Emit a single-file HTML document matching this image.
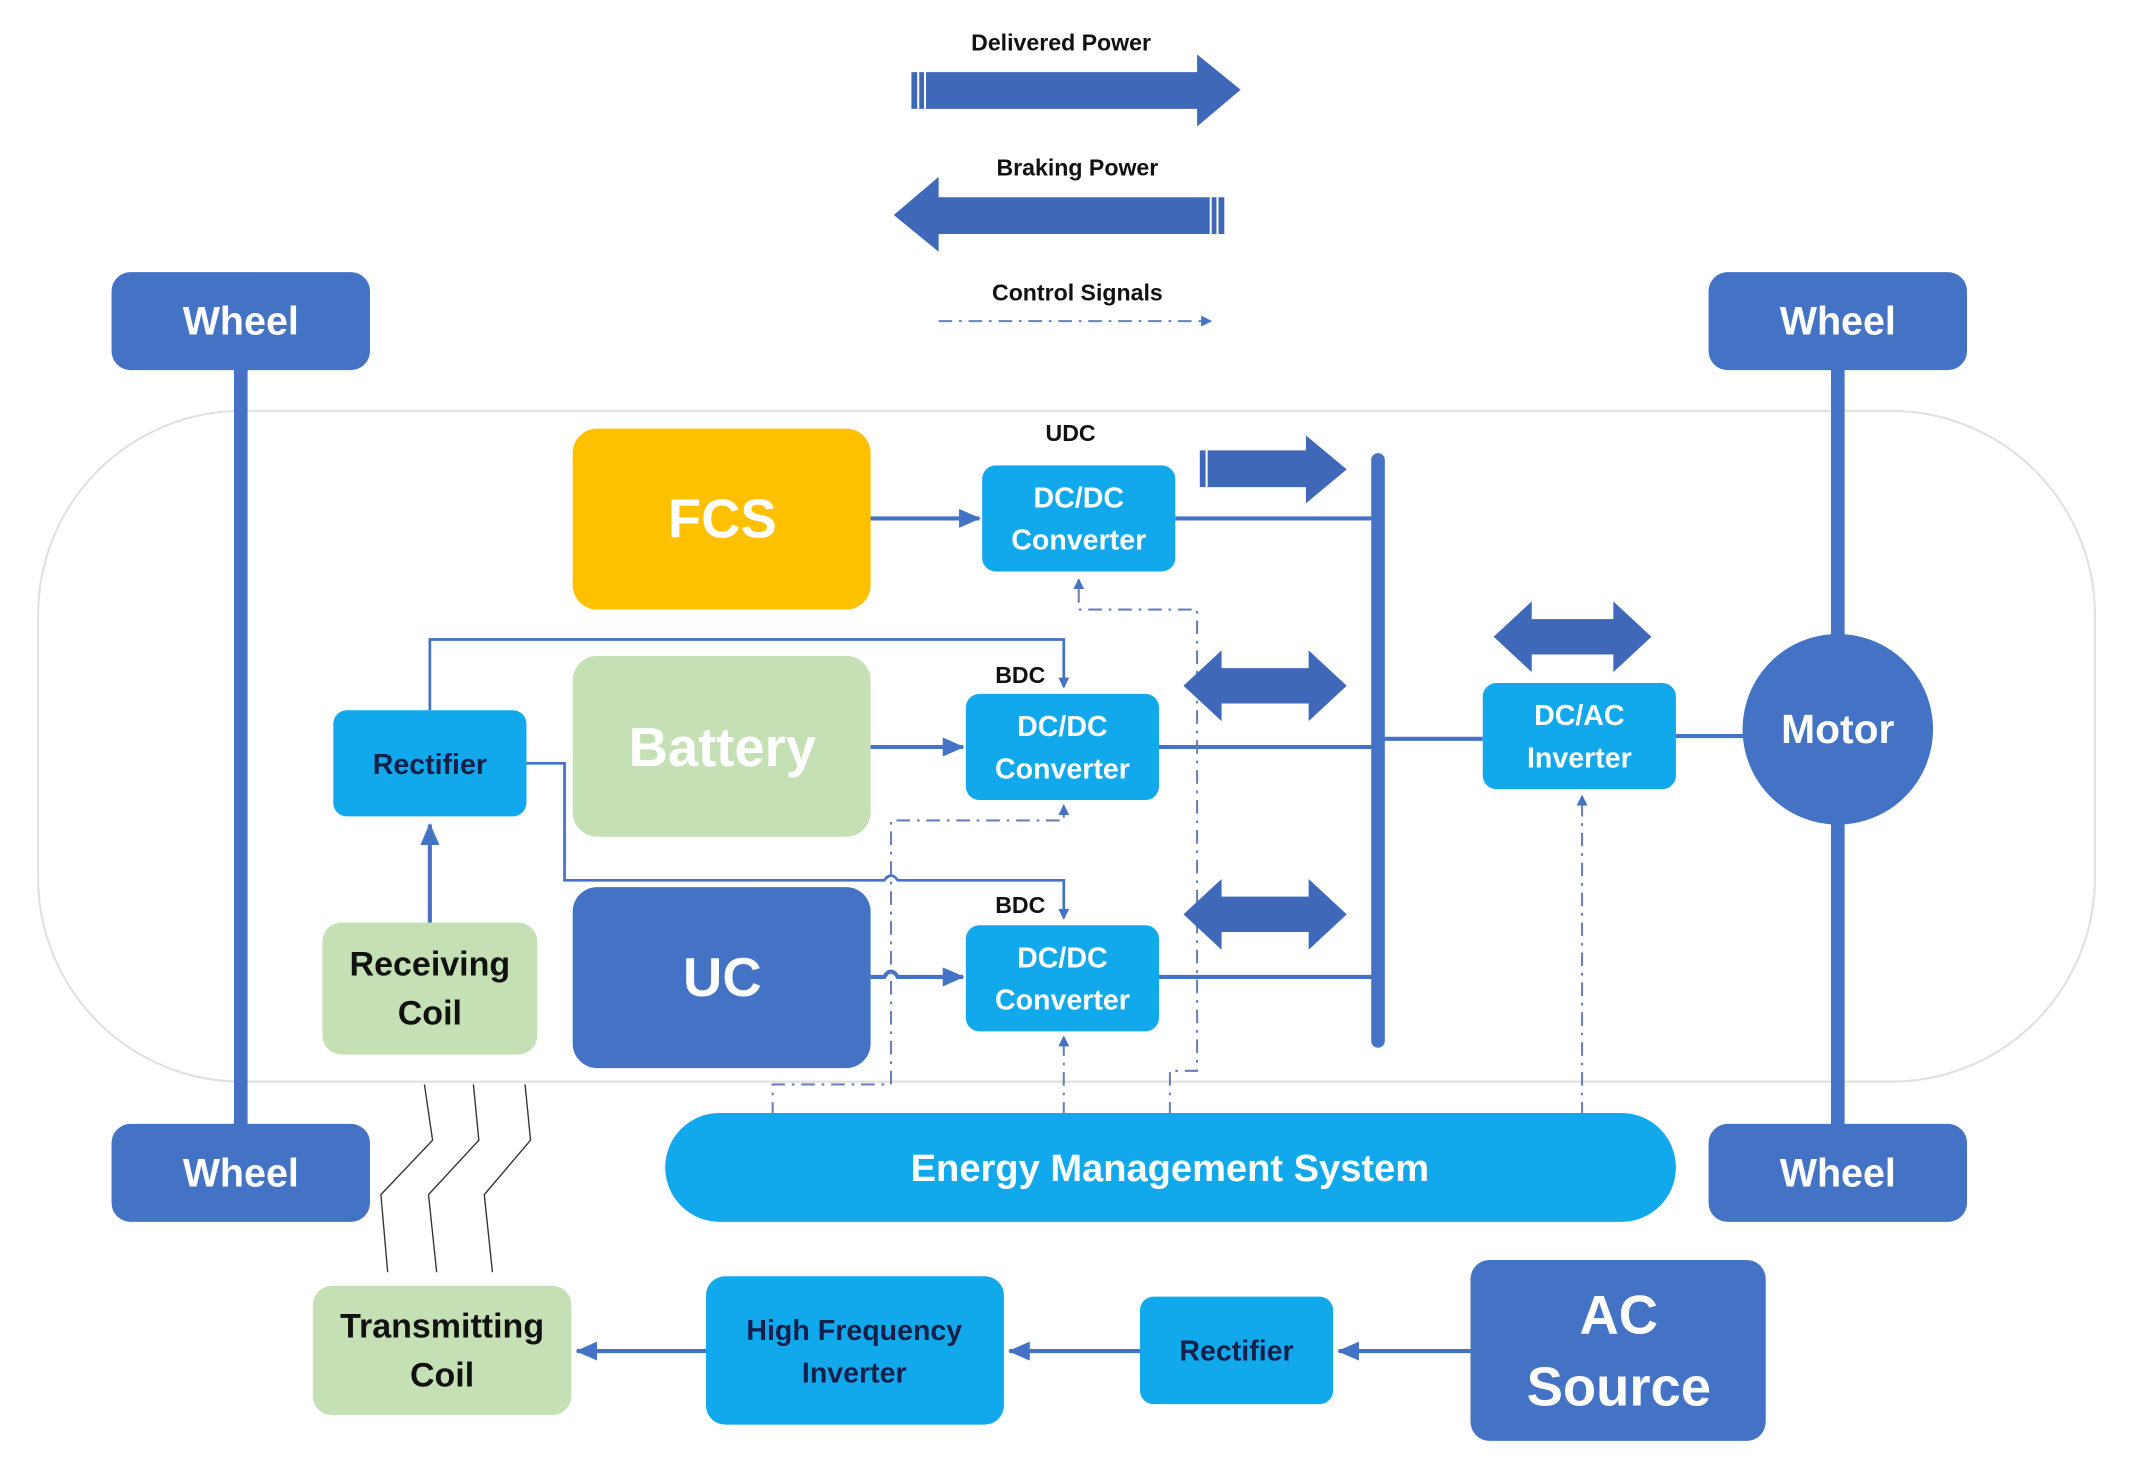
<!DOCTYPE html>
<html><head><meta charset="utf-8"><style>
html,body{margin:0;padding:0;background:#fff;}
svg{display:block;}
text{font-family:"Liberation Sans",sans-serif;font-weight:bold;text-anchor:middle;}
</style></head><body>
<svg width="2133" height="1479" viewBox="0 0 1568 1087" preserveAspectRatio="none" xmlns="http://www.w3.org/2000/svg">
<defs>
<marker id="ah" markerWidth="8" markerHeight="8" refX="7" refY="4" orient="auto" markerUnits="userSpaceOnUse"><path d="M0,0 L8,4 L0,8 z" fill="#4472C4"/></marker>
<marker id="ahb" markerWidth="16" markerHeight="14" refX="15" refY="7" orient="auto" markerUnits="userSpaceOnUse"><path d="M0,0 L16,7 L0,14 z" fill="#4472C4"/></marker>
</defs>
<!-- legend -->
<text x="780" y="37" font-size="17" fill="#111">Delivered Power</text>
<path d="M670,53 L880,53 L880,40 L912,66 L880,93 L880,80 L670,80 z" fill="#4068B8"/>
<line x1="675" y1="53" x2="675" y2="80" stroke="#fff" stroke-width="1.5"/><line x1="680" y1="53" x2="680" y2="80" stroke="#fff" stroke-width="1.5"/>
<text x="792" y="129" font-size="17" fill="#111">Braking Power</text>
<path d="M900,145 L690,145 L690,130 L657,158 L690,185 L690,172 L900,172 z" fill="#4068B8"/>
<line x1="890" y1="145" x2="890" y2="172" stroke="#fff" stroke-width="1.5"/><line x1="895" y1="145" x2="895" y2="172" stroke="#fff" stroke-width="1.5"/>
<text x="792" y="221" font-size="17" fill="#111">Control Signals</text>
<line x1="690" y1="236" x2="890" y2="236" stroke="#6680c0" stroke-width="1.5" stroke-dasharray="10,5,2,5" marker-end="url(#ah)"/>
<!-- car outline -->
<rect x="28" y="302" width="1512" height="493" rx="150" fill="none" stroke="#e0e0e0" stroke-width="1.5"/>
<!-- axles -->
<rect x="172" y="270" width="10" height="560" fill="#4472C4"/>
<rect x="1346" y="270" width="10" height="560" fill="#4472C4"/>
<!-- wheels -->
<g fill="#4472C4">
<rect x="82" y="200" width="190" height="72" rx="14"/>
<rect x="82" y="826" width="190" height="72" rx="14"/>
<rect x="1256" y="200" width="190" height="72" rx="14"/>
<rect x="1256" y="826" width="190" height="72" rx="14"/>
<circle cx="1351" cy="536" r="70"/>
</g>
<g fill="#fff" font-size="29">
<text x="177" y="246">Wheel</text><text x="177" y="872">Wheel</text>
<text x="1351" y="246">Wheel</text><text x="1351" y="872">Wheel</text>
<text x="1351" y="546" font-size="30">Motor</text>
</g>
<!-- storage -->
<rect x="421" y="315" width="219" height="133" rx="18" fill="#FFC000"/>
<rect x="421" y="482" width="219" height="133" rx="18" fill="#C5E0B4"/>
<rect x="421" y="652" width="219" height="133" rx="18" fill="#4472C4"/>
<g fill="#fff" font-size="40"><text x="531" y="395">FCS</text><text x="531" y="563">Battery</text><text x="531" y="732">UC</text></g>
<!-- signal thin lines -->
<g fill="none" stroke="#4472C4" stroke-width="2">
<path d="M316,522 L316,470 L782,470 L782,505" marker-end="url(#ah)"/>
<path d="M387,561 L415,561 L415,647 L650,647 Q655,640 660,647 L782,647 L782,675" marker-end="url(#ah)"/>
</g>
<line x1="316" y1="678" x2="316" y2="606" stroke="#4472C4" stroke-width="3" marker-end="url(#ahb)"/>
<!-- power arrows into converters -->
<g stroke="#4472C4" stroke-width="3" fill="none">
<line x1="640" y1="381" x2="720" y2="381" marker-end="url(#ahb)"/>
<line x1="640" y1="549" x2="708" y2="549" marker-end="url(#ahb)"/>
<path d="M640,718 L650,718 Q655,710 660,718 L708,718" marker-end="url(#ahb)"/>
<line x1="864" y1="381" x2="1013" y2="381"/>
<line x1="852" y1="549" x2="1013" y2="549"/>
<line x1="852" y1="718" x2="1013" y2="718"/>
<line x1="1013" y1="543" x2="1090" y2="543"/>
<line x1="1232" y1="541" x2="1282" y2="541"/>
</g>
<rect x="1008" y="333" width="10" height="437" rx="5" fill="#4472C4"/>
<!-- control dash-dot -->
<g fill="none" stroke="#6a7fb8" stroke-width="1.5" stroke-dasharray="10,5,2,5">
<path d="M860,820 L860,787 L880,787 L880,448 L793,448 L793,426" marker-end="url(#ah)"/>
<path d="M568,820 L568,797 L655,797 L655,603 L782,603 L782,592" marker-end="url(#ah)"/>
<path d="M782,820 L782,762" marker-end="url(#ah)"/>
<path d="M1163,820 L1163,585" marker-end="url(#ah)"/>
</g>
<!-- big arrows -->
<g fill="#4068B8">
<path d="M882,331 L960,331 L960,320 L990,345 L960,370 L960,358 L882,358 z"/>
<path d="M870,504 L898,478 L898,491 L962,491 L962,478 L990,504 L962,530 L962,517 L898,517 L898,530 z"/>
<path d="M870,672 L898,646 L898,659 L962,659 L962,646 L990,672 L962,698 L962,685 L898,685 L898,698 z"/>
<path d="M1098,468 L1126,442 L1126,455 L1186,455 L1186,442 L1214,468 L1186,494 L1186,481 L1126,481 L1126,494 z"/>
</g>
<line x1="887" y1="331" x2="887" y2="358" stroke="#fff" stroke-width="1.5"/>
<!-- converters -->
<g fill="#12A9EC">
<rect x="722" y="342" width="142" height="78" rx="10"/>
<rect x="710" y="510" width="142" height="78" rx="10"/>
<rect x="710" y="680" width="142" height="78" rx="10"/>
<rect x="1090" y="502" width="142" height="78" rx="10"/>
<rect x="245" y="522" width="142" height="78" rx="10"/>
<rect x="489" y="818" width="743" height="80" rx="40"/>
<rect x="519" y="938" width="219" height="109" rx="14"/>
<rect x="838" y="953" width="142" height="79" rx="10"/>
</g>
<g fill="#fff" font-size="21">
<text x="793" y="373">DC/DC</text><text x="793" y="404">Converter</text>
<text x="781" y="541">DC/DC</text><text x="781" y="572">Converter</text>
<text x="781" y="711">DC/DC</text><text x="781" y="742">Converter</text>
<text x="1161" y="533">DC/AC</text><text x="1161" y="564">Inverter</text>
<text x="860" y="868" font-size="28">Energy Management System</text>
</g>
<g fill="#111" font-size="17"><text x="787" y="324">UDC</text><text x="750" y="502">BDC</text><text x="750" y="671">BDC</text></g>
<text x="316" y="569" font-size="21" fill="#13204a">Rectifier</text>
<rect x="237" y="678" width="158" height="97" rx="14" fill="#C5E0B4"/>
<text x="316" y="717" font-size="25" fill="#111">Receiving</text><text x="316" y="753" font-size="25" fill="#111">Coil</text>
<!-- coil lines -->
<g fill="none" stroke="#333" stroke-width="1">
<path d="M312,797 L318,838 L280,878 L285,935"/>
<path d="M348,797 L352,838 L315,878 L321,935"/>
<path d="M386,797 L390,838 L356,878 L362,935"/>
</g>
<!-- bottom -->
<rect x="230" y="945" width="190" height="95" rx="14" fill="#C5E0B4"/>
<text x="325" y="983" font-size="25" fill="#111">Transmitting</text><text x="325" y="1019" font-size="25" fill="#111">Coil</text>
<text x="628" y="985" font-size="21" fill="#13204a">High Frequency</text><text x="628" y="1016" font-size="21" fill="#13204a">Inverter</text>
<text x="909" y="1000" font-size="21" fill="#13204a">Rectifier</text>
<rect x="1081" y="926" width="217" height="133" rx="14" fill="#4472C4"/>
<text x="1190" y="980" font-size="40" fill="#fff">AC</text><text x="1190" y="1033" font-size="40" fill="#fff">Source</text>
<g stroke="#4472C4" stroke-width="3">
<line x1="1081" y1="993" x2="984" y2="993" marker-end="url(#ahb)"/>
<line x1="838" y1="993" x2="742" y2="993" marker-end="url(#ahb)"/>
<line x1="519" y1="993" x2="424" y2="993" marker-end="url(#ahb)"/>
</g>
</svg>
</body></html>
